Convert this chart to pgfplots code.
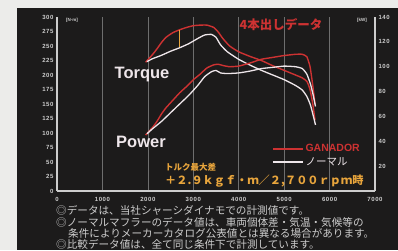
\documentclass[border=0pt]{standalone}
\usepackage{fontspec}
\setmainfont{Liberation Sans}
\newfontfamily\jp{Noto Sans CJK JP}
\newfontfamily\tickfont[LetterSpace=10]{Liberation Sans}
\usepackage{pgfplots}
\pgfplotsset{compat=1.18}
\definecolor{bg}{RGB}{28,27,27}
\definecolor{paper}{RGB}{236,236,234}
\definecolor{framec}{RGB}{205,205,205}
\definecolor{gridc}{RGB}{110,110,110}
\definecolor{gred}{RGB}{205,50,50}
\definecolor{nwhite}{RGB}{238,230,234}
\definecolor{ora}{RGB}{232,165,60}
\definecolor{notec}{RGB}{205,205,205}

\pgfplotstableread{
rpm T
1950 222
2100 235
2200 245
2300 256
2400 265
2550 273
2700 278
2850 282
3000 285
3150 286
3300 286
3450 282
3550 274
3650 263
3800 250
4000 240
4250 232
4500 225
4750 216
5000 208
5250 200
5400 195
5500 189
5570 175
5630 150
5680 122
}\redtorque
\pgfplotstableread{
rpm T
1980 223
2100 228
2300 234
2500 241
2700 247
2900 254
3100 263
3250 269
3400 270
3500 265
3600 252
3750 240
4000 227
4250 217
4500 208
4750 200
5000 192
5250 182
5400 174
5500 163
5580 148
5640 130
5690 114
}\whitetorque
\pgfplotstableread{
rpm P
1950 45
2100 51
2200 56
2300 62
2400 67
2550 73
2700 79
2850 84
3000 89.5
3150 94
3300 99
3450 101.5
3550 102
3650 101
3800 100
4000 100.5
4250 103
4500 106
4750 107.5
5000 109
5250 110
5400 110
5500 108
5570 100
5630 85
5680 70
}\redpower
\pgfplotstableread{
rpm P
1980 46
2100 50
2300 56
2500 63
2700 70
2900 77
3100 85
3250 92
3400 96
3500 97
3600 95
3750 94.5
4000 95
4250 96.5
4500 98.5
4750 99.5
5000 100.5
5250 100
5400 98.5
5500 94
5580 86
5640 77
5690 68
}\whitepower

\begin{document}
\begin{tikzpicture}
\path[use as bounding box] (0,0) rectangle (398pt,250pt);
\fill[paper] (0,0) rectangle (398pt,250pt);
\fill[bg] (17pt,0) rectangle (398pt,242pt);

\begin{axis}[
  at={(57pt,59pt)}, anchor=south west,
  scale only axis, width=318pt, height=174pt,
  xmin=0, xmax=7000, ymin=0, ymax=300,
  axis x line*=bottom, axis y line*=left,
  axis line style={framec, line width=1.5pt},
  xtick={0,1000,...,7000}, ytick={0,25,...,300},
  xmajorgrids, grid style={gridc, line width=0.7pt},
  major tick length=0pt,
  scaled x ticks=false,
  /pgf/number format/1000 sep={},
  /pgf/number format/assume math mode=true,
  tick label style={font=\tickfont\bfseries\fontsize{6}{6}\selectfont, text=framec},
  xticklabel style={yshift=-2.5pt},
  legend style={draw=none, fill=none, at={(0.676,0.28)}, anchor=north west,
    inner sep=0pt, row sep=0pt, font=\fontsize{10.5}{10.5}\selectfont},
  legend cell align=left,
  legend image code/.code={\draw[#1] (0pt,0pt) -- (30pt,0pt);},
]
\addplot[gred, line width=1.4pt, smooth, tension=0.3] table[x=rpm,y=T] {\redtorque};
\addlegendentry[text=gred]{\bfseries GANADOR}
\addplot[nwhite, line width=1.3pt, smooth, tension=0.3] table[x=rpm,y=T] {\whitetorque};
\addlegendentry[text=nwhite]{\jp ノーマル}
\addplot[ora, line width=1pt, forget plot] coordinates {(2700,248) (2700,277)};
\end{axis}

\begin{axis}[
  at={(57pt,59pt)}, anchor=south west,
  scale only axis, width=318pt, height=174pt,
  xmin=0, xmax=7000, ymin=0, ymax=140,
  axis x line=none, axis y line*=right,
  axis line style={framec, line width=1.5pt},
  ytick={20,40,...,140},
  major tick length=0pt,
  /pgf/number format/assume math mode=true,
  tick label style={font=\tickfont\bfseries\fontsize{6}{6}\selectfont, text=framec},
]
\addplot[gred, line width=1.4pt, smooth, tension=0.3] table[x=rpm,y=P] {\redpower};
\addplot[nwhite, line width=1.3pt, smooth, tension=0.3] table[x=rpm,y=P] {\whitepower};
\end{axis}

\node[text=nwhite, font=\bfseries\fontsize{16.5}{16.5}\selectfont] at (142pt,175pt) {Torque};
\node[text=nwhite, font=\bfseries\fontsize{16.5}{16.5}\selectfont] at (141pt,108pt) {Power};
\node[text=gred, font=\jp\bfseries\fontsize{12.5}{12.5}\selectfont] at (281pt,225pt) {4本出しデータ};
\node[text=framec, font=\bfseries\fontsize{4.5}{4.5}\selectfont] at (72pt,230pt) {[N·m]};
\node[text=framec, font=\bfseries\fontsize{4.5}{4.5}\selectfont] at (362pt,230pt) {[kW]};
\node[anchor=west, inner sep=0pt, text=ora, font=\jp\bfseries\fontsize{8.5}{8.5}\selectfont] at (165pt,83pt) {トルク最大差};
\node[anchor=west, inner sep=0pt, text=ora, font=\jp\bfseries\fontsize{11.2}{11.2}\selectfont] at (165pt,69pt) {＋２.９ｋｇｆ・ｍ／２,７００ｒｐｍ時};
\node[anchor=west, inner sep=0pt, text=notec, font=\jp\fontsize{10.6}{10.6}\selectfont] at (56pt,40pt) {◎データは、当社シャーシダイナモでの計測値です。};
\node[anchor=west, inner sep=0pt, text=notec, font=\jp\fontsize{10.6}{10.6}\selectfont] at (56pt,28pt) {◎ノーマルマフラーのデータ値は、車両個体差・気温・気候等の};
\node[anchor=west, inner sep=0pt, text=notec, font=\jp\fontsize{10.6}{10.6}\selectfont] at (68pt,17pt) {条件によりメーカーカタログ公表値とは異なる場合があります。};
\node[anchor=west, inner sep=0pt, text=notec, font=\jp\fontsize{10.6}{10.6}\selectfont] at (56pt,5.5pt) {◎比較データ値は、全て同じ条件下で計測しています。};
\end{tikzpicture}
\end{document}
